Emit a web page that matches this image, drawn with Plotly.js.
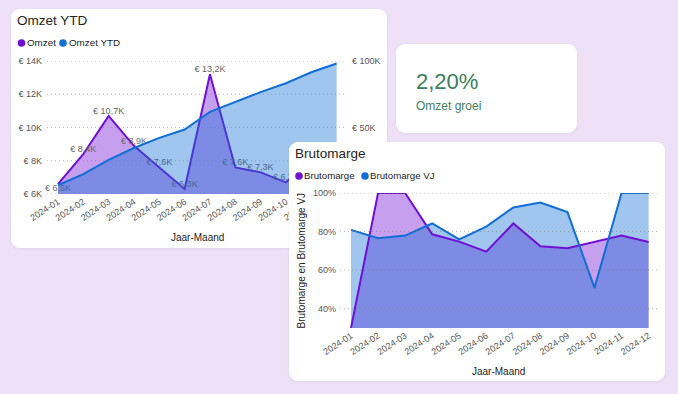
<!DOCTYPE html>
<html>
<head>
<meta charset="utf-8">
<script src="https://cdn.plot.ly/plotly-3.0.1.min.js"></script>
<style>
html,body{margin:0;padding:0;width:678px;height:394px;overflow:hidden;background:#EDE0F7;font-family:"Liberation Sans",Arial,sans-serif;}
.card{position:absolute;background:#fff;border-radius:9px;overflow:hidden;box-shadow:0 1px 3px rgba(80,60,110,0.08);}
#c1{left:11px;top:9px;width:376px;height:239px;z-index:1}
#kpi{left:396px;top:44px;width:181px;height:89px;z-index:1}
#c2{left:289px;top:142px;width:376px;height:239px;z-index:2}
#kpiValue{position:absolute;left:20px;top:27px;font-size:22px;line-height:1;color:#3B7D5C;white-space:nowrap}
#kpiLabel{position:absolute;left:20px;top:56px;font-size:12px;line-height:1;color:#3F8060;white-space:nowrap}
</style>
</head>
<body>
<div id="c1" class="card"></div>
<div id="kpi" class="card"><div id="kpiValue"></div><div id="kpiLabel"></div></div>
<div id="c2" class="card"></div>
<script>
// ---------- data ----------
const months = ["2024-01","2024-02","2024-03","2024-04","2024-05","2024-06","2024-07","2024-08","2024-09","2024-10","2024-11","2024-12"];
const omzet = [6600,8400,10700,8900,7600,6300,13200,7600,7300,6700,8200,6600];
const omzetYTD = [6600,15000,25700,34600,42200,48500,61700,69300,76600,83300,91500,98100];
const omzetTickVals = [6000,8000,10000,12000,14000];
const omzetTickText = ["€ 6K","€ 8K","€ 10K","€ 12K","€ 14K"];
const ytdTickVals = [0,50000,100000];
const ytdTickText = ["€ 0K","€ 50K","€ 100K"];
const brutomarge = [0.30,1.00,1.00,0.786,0.748,0.696,0.842,0.724,0.714,0.746,0.779,0.746];
const brutomargeVJ = [0.809,0.765,0.779,0.842,0.760,0.826,0.925,0.951,0.901,0.508,1.00,1.00];
const pctTickVals = [0.4,0.6,0.8,1.0];
const legend1 = ["Omzet","Omzet YTD"];
const legend2 = ["Brutomarge","Brutomarge VJ"];
const kpiValue = "2,20%";
const kpiLabel = "Omzet groei";

// ---------- style ----------
const FAM = '"Liberation Sans", Arial, sans-serif';
const PURPLE = 'rgb(112,16,212)';
const PURPLE_FILL = 'rgba(112,16,212,0.4)';
const BLUE = 'rgb(17,110,214)';
const BLUE_FILL = 'rgba(17,110,214,0.4)';
const TICK = '#555555';
const DARK = '#252423';
const GRID = 'rgba(130,130,130,0.6)';

document.getElementById('kpiValue').textContent = kpiValue;
document.getElementById('kpiLabel').textContent = kpiLabel;

function px2paperX(px, m, w){ return (px - m.l) / (w - m.l - m.r); }
function px2paperY(py, m, h){ return 1 - (py - m.t) / (h - m.t - m.b); }
function gridShapes(vals, yref){
  return vals.map(v => ({type:'line', xref:'paper', x0:0, x1:1, yref:yref, y0:v, y1:v,
    layer:'above', line:{color:GRID, width:1, dash:'1px,3px'}}));
}
// legend: dot shapes + text annotations (pixel positions inside the card)
function legendParts(names, colors, dotX, textX, cy, m, w, h, size){
  const shapes = names.map((n,i)=>({type:'circle', xref:'paper', yref:'paper',
    xsizemode:'pixel', ysizemode:'pixel', xanchor:px2paperX(dotX[i], m, w), yanchor:px2paperY(cy, m, h),
    x0:-3.8, x1:3.8, y0:-3.8, y1:3.8, fillcolor:colors[i], line:{width:0}, layer:'above'}));
  const anns = names.map((n,i)=>({xref:'paper', yref:'paper', x:px2paperX(textX[i]-2, m, w),
    y:px2paperY(cy, m, h), xanchor:'left', yanchor:'middle', showarrow:false, text:n,
    font:{family:FAM, size:size, color:DARK}}));
  return {shapes, anns};
}
const euroK = v => '€ ' + (v/1000).toFixed(1).replace('.', ',') + 'K';

const W = 376, H = 239;
const cfg = {staticPlot:true, displayModeBar:false};

// ---------- chart 1 ----------
const m1 = {l:36, r:40, t:52, b:54};
const lg1 = legendParts(legend1, [PURPLE, BLUE], [10.5, 52], [16, 57.5], 34, m1, W, H, 9.8);
const traces1 = [
  {x:months, y:omzet, type:'scatter', mode:'none', fill:'tozeroy', fillcolor:PURPLE_FILL, yaxis:'y'},
  {x:months, y:omzetYTD, type:'scatter', mode:'none', fill:'tozeroy', fillcolor:BLUE_FILL, yaxis:'y2'},
  {x:months, y:omzet, type:'scatter', mode:'lines', line:{color:PURPLE, width:2}, yaxis:'y'},
  {x:months, y:omzetYTD, type:'scatter', mode:'lines', line:{color:BLUE, width:2}, yaxis:'y2'},
  {x:months, y:omzet, type:'scatter', mode:'text', text:omzet.map(euroK),
   textposition:omzet.map((v,i)=> i===0 ? 'bottom center' : 'top center'),
   textfont:{family:FAM, size:9, color:'#666666'}, cliponaxis:false, yaxis:'y'}
];
const layout1 = {
  width:W, height:H, margin:m1, paper_bgcolor:'#ffffff', plot_bgcolor:'rgba(0,0,0,0)',
  showlegend:false, font:{family:FAM, size:9, color:TICK},
  title:{text:'Omzet YTD', xref:'container', x:6/W, xanchor:'left', yref:'container', y:1-11/H, yanchor:'middle',
         font:{family:FAM, size:13.5, color:DARK}},
  xaxis:{type:'category', range:[-0.433, 11.41], tickangle:-33, showgrid:false, zeroline:false, showline:false,
         ticks:'', tickfont:{family:FAM, size:9, color:TICK}},
  yaxis:{range:[6000,14000], tickvals:omzetTickVals, ticktext:omzetTickText, showgrid:false, zeroline:false,
         showline:false, ticks:'', ticklabelstandoff:4, tickfont:{family:FAM, size:9, color:TICK}},
  yaxis2:{overlaying:'y', side:'right', range:[0,100000], tickvals:ytdTickVals, ticktext:ytdTickText,
          showgrid:false, zeroline:false, showline:false, ticks:'', ticklabelstandoff:4,
          tickfont:{family:FAM, size:9, color:TICK}},
  shapes:gridShapes(omzetTickVals, 'y').concat(lg1.shapes),
  annotations:lg1.anns.concat([
    {xref:'paper', yref:'paper', x:0.5, y:px2paperY(228, m1, H), xanchor:'center', yanchor:'middle',
     showarrow:false, text:'Jaar-Maand', font:{family:FAM, size:10, color:DARK}}
  ])
};
Plotly.newPlot('c1', traces1, layout1, cfg);

// ---------- chart 2 ----------
const m2 = {l:51, r:8, t:51, b:53};
const lg2 = legendParts(legend2, [PURPLE, BLUE], [10, 76], [15, 81], 34, m2, W, H, 9.7);
const traces2 = [
  {x:months, y:brutomarge, type:'scatter', mode:'none', fill:'tozeroy', fillcolor:PURPLE_FILL},
  {x:months, y:brutomargeVJ, type:'scatter', mode:'none', fill:'tozeroy', fillcolor:BLUE_FILL},
  {x:months, y:brutomarge, type:'scatter', mode:'lines', line:{color:PURPLE, width:2}},
  {x:months, y:brutomargeVJ, type:'scatter', mode:'lines', line:{color:BLUE, width:2}}
];
const layout2 = {
  width:W, height:H, margin:m2, paper_bgcolor:'#ffffff', plot_bgcolor:'rgba(0,0,0,0)',
  showlegend:false, font:{family:FAM, size:9, color:TICK},
  title:{text:'Brutomarge', xref:'container', x:6/W, xanchor:'left', yref:'container', y:1-11.7/H, yanchor:'middle',
         font:{family:FAM, size:13.5, color:DARK}},
  xaxis:{type:'category', range:[-0.407, 11.31], tickangle:-33, showgrid:false, zeroline:false, showline:false,
         ticks:'', tickfont:{family:FAM, size:9, color:TICK}},
  yaxis:{range:[0.3,1.0], tickvals:pctTickVals, tickformat:'.0%', showgrid:false, zeroline:false,
         showline:false, ticks:'', ticklabelstandoff:3, tickfont:{family:FAM, size:9, color:TICK}},
  shapes:gridShapes(pctTickVals, 'y').concat(lg2.shapes),
  annotations:lg2.anns.concat([
    {xref:'paper', yref:'paper', x:0.5, y:px2paperY(229, m2, H), xanchor:'center', yanchor:'middle',
     showarrow:false, text:'Jaar-Maand', font:{family:FAM, size:10, color:DARK}},
    {xref:'paper', yref:'paper', x:px2paperX(12, m2, W), y:0.5, xanchor:'center', yanchor:'middle', textangle:-90,
     showarrow:false, text:'Brutomarge en Brutomarge VJ', font:{family:FAM, size:10, color:DARK}}
  ])
};
Plotly.newPlot('c2', traces2, layout2, cfg);
</script>
</body>
</html>
